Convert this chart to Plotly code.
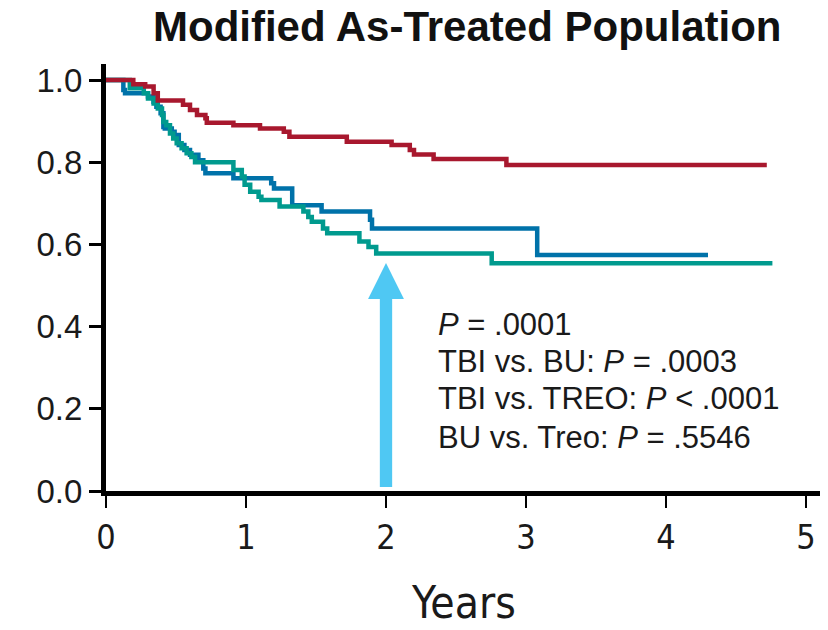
import plotly.graph_objects as go

# ---- data ----
tbi_t = [0, 0.195, 0.28, 0.34, 0.37, 0.55, 0.60, 0.65, 0.71, 0.72, 0.91, 1.10, 1.27, 1.31,
         1.72, 2.04, 2.17, 2.20, 2.34, 2.86, 4.72]
tbi_s = [1.0, 0.99, 0.984, 0.968, 0.95, 0.94, 0.927, 0.915, 0.907, 0.896, 0.89, 0.882, 0.874, 0.862,
         0.85, 0.842, 0.83, 0.819, 0.808, 0.793, 0.793]

bu_t = [0, 0.124, 0.136, 0.30, 0.34, 0.36, 0.39, 0.41, 0.42, 0.47, 0.49, 0.52, 0.56, 0.60, 0.66,
        0.695, 0.71, 0.91, 1.18, 1.20, 1.33, 1.54, 1.886, 1.90, 3.08, 4.30]
bu_s = [1.0, 0.976, 0.968, 0.96, 0.947, 0.935, 0.919, 0.886, 0.882, 0.874, 0.866, 0.842, 0.83, 0.818, 0.805,
        0.785, 0.773, 0.761, 0.749, 0.736, 0.695, 0.68, 0.66, 0.639, 0.574, 0.574]

treo_t = [0, 0.17, 0.27, 0.30, 0.34, 0.37, 0.40, 0.41, 0.43, 0.457, 0.48, 0.505, 0.54, 0.576, 0.61, 0.636,
          0.91, 0.97, 0.99, 1.03, 1.09, 1.11, 1.24, 1.41, 1.445, 1.47, 1.55, 1.58, 1.81, 1.875, 1.93,
          2.755, 4.76]
treo_s = [1.0, 0.98, 0.968, 0.955, 0.943, 0.931, 0.915, 0.898, 0.89, 0.87, 0.858, 0.846, 0.834, 0.822, 0.813, 0.80,
          0.781, 0.765, 0.745, 0.728, 0.716, 0.708, 0.692, 0.68, 0.667, 0.655, 0.639, 0.627, 0.607, 0.594, 0.578,
          0.554, 0.554]

x_ticks = [0, 1, 2, 3, 4, 5]
y_ticks = [0.0, 0.2, 0.4, 0.6, 0.8, 1.0]
y_tick_labels = ["0.0", "0.2", "0.4", "0.6", "0.8", "1.0"]

arrow_x = 2.0
arrow_tip = 0.555
arrow_base = 0.467
arrow_bottom = 0.01

stats_lines = [
    "<i>P</i> = .0001",
    "TBI vs. BU: <i>P</i> = .0003",
    "TBI vs. TREO: <i>P</i> < .0001",
    "BU vs. Treo: <i>P</i> = .5546",
]
stats_y = [0.404, 0.316, 0.224, 0.131]
stats_x = 2.36

title_text = "<b>Modified As-Treated Population</b>"
x_title = "Years"

# ---- figure ----
RED = "#A8182E"
BLUE = "#0072A9"
TEAL = "#009A8E"
ARROW = "#4FC8F3"
COND = "DejaVu Sans Condensed, Liberation Sans"

fig = go.Figure()
for t, s, c in [(bu_t, bu_s, BLUE), (treo_t, treo_s, TEAL), (tbi_t, tbi_s, RED)]:
    fig.add_trace(go.Scatter(x=t, y=s, mode="lines", line=dict(color=c, width=4.5, shape="hv"),
                             showlegend=False, hoverinfo="skip"))

# arrow
shaft_half = 0.044
head_half = 0.128
fig.add_shape(type="rect", xref="x", yref="y", x0=arrow_x - shaft_half, x1=arrow_x + shaft_half,
              y0=arrow_bottom, y1=arrow_base + 0.002, fillcolor=ARROW, line=dict(width=0), layer="above")
fig.add_shape(type="path", xref="x", yref="y",
              path=f"M {arrow_x - head_half} {arrow_base} L {arrow_x + head_half} {arrow_base} L {arrow_x} {arrow_tip} Z",
              fillcolor=ARROW, line=dict(width=0), layer="above")

for txt, yy in zip(stats_lines, stats_y):
    fig.add_annotation(x=stats_x, y=yy, xref="x", yref="y", text=txt, showarrow=False,
                       xanchor="left", yanchor="middle",
                       font=dict(family="Liberation Sans, Arial", size=31, color="#1a1a1a"))

fig.add_annotation(x=0.505, y=1.088, xref="paper", yref="paper", text=title_text, showarrow=False,
                   xanchor="center", yanchor="middle",
                   font=dict(family="Liberation Sans, Arial", size=42, color="#111111"))
fig.add_annotation(x=0.5, y=-0.26, xref="paper", yref="paper", text=x_title, showarrow=False,
                   xanchor="center", yanchor="middle",
                   font=dict(family=COND, size=44, color="#1a1a1a"))

fig.update_layout(
    width=828, height=630,
    margin=dict(l=106, r=8, t=64, b=139),
    paper_bgcolor="white", plot_bgcolor="white",
    xaxis=dict(range=[0, 5.1], tickvals=x_ticks, ticktext=[str(v) for v in x_ticks],
               showgrid=False, zeroline=False, showline=True, linecolor="black", linewidth=5,
               ticks="outside", ticklen=12, tickwidth=2, tickcolor="black",
               tickfont=dict(family=COND, size=34, color="#1a1a1a")),
    yaxis=dict(range=[0, 1.039], tickvals=y_ticks, ticktext=y_tick_labels,
               showgrid=False, zeroline=False, showline=True, linecolor="black", linewidth=5,
               ticks="outside", ticklen=12, tickwidth=2.5, tickcolor="black",
               tickfont=dict(family="Liberation Sans, Arial", size=33, color="#1a1a1a")),
)

fig.write_html("out.html")
